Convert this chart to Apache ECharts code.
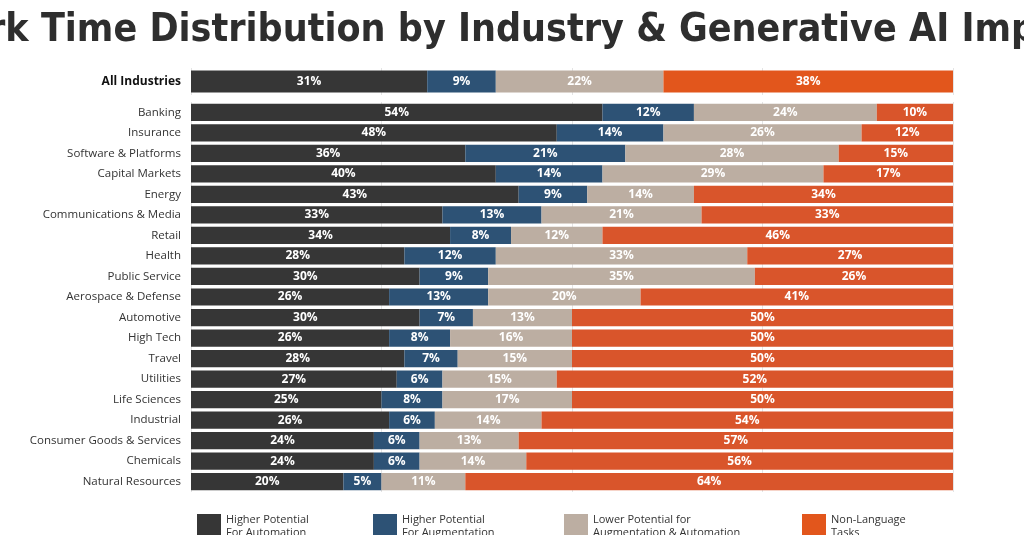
<!DOCTYPE html>
<html>
<head>
<meta charset="utf-8">
<script src="https://cdn.jsdelivr.net/npm/echarts@6/dist/echarts.min.js"></script>
<style>html,body{margin:0;padding:0;background:#fff}#main{width:1024px;height:535px}</style>
</head>
<body>
<div id="main"></div>
<script>
// 数据
var seriesNames = ['Higher Potential\nFor Automation', 'Higher Potential\nFor Augmentation', 'Lower Potential for\nAugmentation & Automation', 'Non-Language\nTasks'];
var colors = ['#363636', '#2d5275', '#bcaea2', '#d9552b'];
var allLabel = ['All Industries'];
var allValues = [[31], [9], [22], [38]];
var industries = ['Banking', 'Insurance', 'Software & Platforms', 'Capital Markets', 'Energy',
    'Communications & Media', 'Retail', 'Health', 'Public Service', 'Aerospace & Defense',
    'Automotive', 'High Tech', 'Travel', 'Utilities', 'Life Sciences', 'Industrial',
    'Consumer Goods & Services', 'Chemicals', 'Natural Resources'];
var automation = [54, 48, 36, 40, 43, 33, 34, 28, 30, 26, 30, 26, 28, 27, 25, 26, 24, 24, 20];
var augmentation = [12, 14, 21, 14, 9, 13, 8, 12, 9, 13, 7, 8, 7, 6, 8, 6, 6, 6, 5];
var lowerPotential = [24, 26, 28, 29, 14, 21, 12, 33, 35, 20, 13, 16, 15, 15, 17, 14, 13, 14, 11];
var nonLanguage = [10, 12, 15, 17, 34, 33, 46, 27, 26, 41, 50, 50, 50, 52, 50, 54, 57, 56, 64];
var industryValues = [automation, augmentation, lowerPotential, nonLanguage];

var chart = echarts.init(document.getElementById('main'));
var font = 'Open Sans';
var series = [];
seriesNames.forEach(function (name, i) {
    var base = {
        name: name, type: 'bar', stack: 'all', barWidth: '82%',
        itemStyle: { color: colors[i] },
        label: { show: true, position: 'inside', color: '#fff', fontWeight: 'bold', fontSize: 12, fontFamily: font, formatter: '{c}%' }
    };
    series.push(Object.assign({}, base, {
        xAxisIndex: 0, yAxisIndex: 0, data: allValues[i],
        itemStyle: { color: i === 3 ? '#e2561c' : colors[i] }
    }));
    series.push(Object.assign({}, base, {
        xAxisIndex: 1, yAxisIndex: 1, stack: 'ind', data: industryValues[i], barWidth: '84%'
    }));
});

var legendLefts = [192, 368, 559, 797];
var legends = seriesNames.map(function (name, i) {
    return {
        data: [name], left: legendLefts[i], top: 508, itemWidth: 24, itemHeight: 24,
        itemGap: 4, icon: 'rect',
        textStyle: { fontFamily: font, fontSize: 11, color: '#333', lineHeight: 13 }
    };
});

var xAxisBase = { type: 'value', min: 0, max: 100, interval: 25, axisLabel: { show: false },
    axisLine: { show: false }, axisTick: { show: false },
    splitLine: { lineStyle: { color: '#e4e4e4' } } };

chart.setOption({
    backgroundColor: '#fff',
    title: {
        text: 'Work Time Distribution by Industry & Generative AI Impact',
        left: 'center', top: 6,
        textStyle: { fontFamily: 'DejaVu Sans Condensed', fontWeight: 'bold', fontSize: 39, color: '#2e2e2e' }
    },
    legend: legends,
    grid: [
        { left: 191, right: 71, top: 68, height: 27 },
        { left: 191, right: 71, top: 102, height: 390 }
    ],
    xAxis: [Object.assign({ gridIndex: 0 }, xAxisBase), Object.assign({ gridIndex: 1 }, xAxisBase)],
    yAxis: [
        { gridIndex: 0, type: 'category', data: allLabel, inverse: true, axisLine: { show: false }, axisTick: { show: false },
          axisLabel: { color: '#111', fontWeight: 'bold', fontSize: 12, fontFamily: font, margin: 10 } },
        { gridIndex: 1, type: 'category', data: industries, inverse: true, axisLine: { show: false }, axisTick: { show: false },
          axisLabel: { color: '#333', fontSize: 11.5, fontFamily: font, margin: 10 } }
    ],
    series: series
});
</script>
</body>
</html>
